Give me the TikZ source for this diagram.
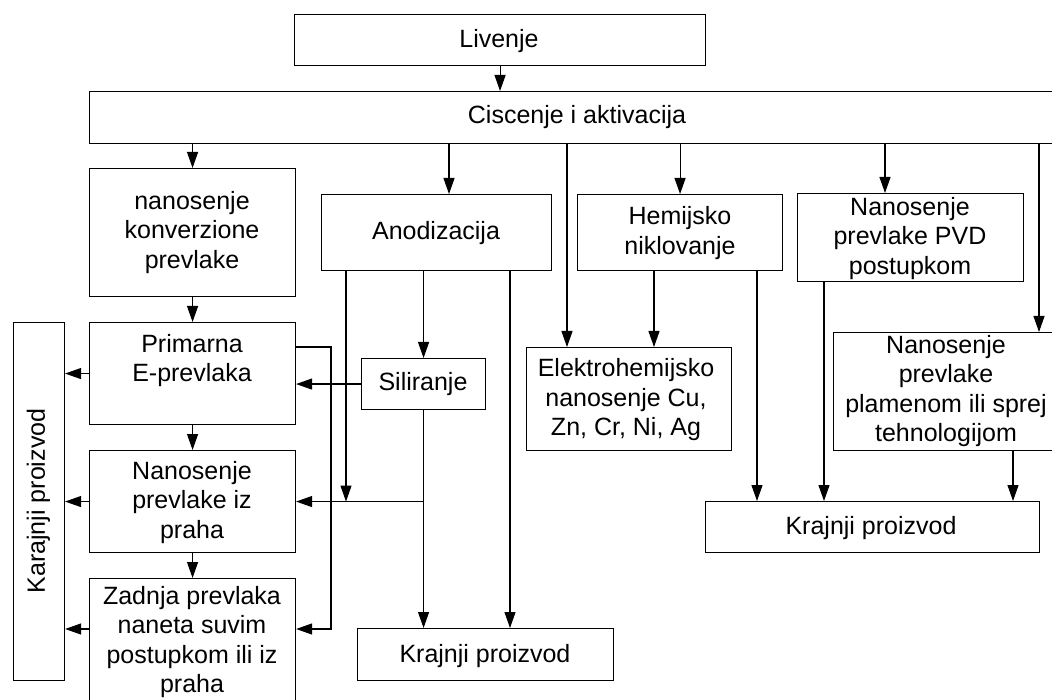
\documentclass[tikz,border=0pt]{standalone}
\usepackage{fontspec}
\setmainfont{Liberation Sans}
\usetikzlibrary{arrows.meta}
\begin{document}
\begin{tikzpicture}[x=1pt,y=-1pt,
  box/.style={draw, line width=1.1pt, inner sep=0pt, anchor=north west},
  txt/.style={inner sep=0pt, align=center, font=\fontsize{25}{29.5}\selectfont},
  arr/.style={line width=1.1pt, -{Triangle[length=16pt,width=11pt]}},
  ln/.style={line width=1.1pt}]
\useasboundingbox (0,0) rectangle (1052,700);
\clip (0,0) rectangle (1052,700);
\fill[white] (0,0) rectangle (1052,700);

% boxes
\node[box, minimum width=411pt, minimum height=51pt] (liv) at (294,14) {};
\node[box, minimum width=969pt, minimum height=52pt] (cis) at (89,91) {};
\node[box, minimum width=206pt, minimum height=128pt] (conv) at (89,168) {};
\node[box, minimum width=206pt, minimum height=102pt] (prim) at (89,322) {};
\node[box, minimum width=206pt, minimum height=102pt] (nan) at (89,450) {};
\node[box, minimum width=206pt, minimum height=134pt] (zad) at (89,578) {};
\node[box, minimum width=51pt, minimum height=358pt] (kar) at (13,322) {};
\node[box, minimum width=230pt, minimum height=76pt] (anod) at (321,194) {};
\node[box, minimum width=205pt, minimum height=76pt] (hem) at (577,194) {};
\node[box, minimum width=226pt, minimum height=88pt] (pvd) at (797,193) {};
\node[box, minimum width=124pt, minimum height=51pt] (sil) at (361,358) {};
\node[box, minimum width=205pt, minimum height=103pt] (elek) at (526,347) {};
\node[box, minimum width=226pt, minimum height=118pt] (plam) at (833,332) {};
\node[box, minimum width=256pt, minimum height=52pt] (kr1) at (357,628) {};
\node[box, minimum width=334pt, minimum height=51pt] (kr2) at (705,501) {};

% texts
\node[txt] (tliv) at (499,41.5) {Livenje};
\node[txt] (tcis) at (577,117.5) {Ciscenje i aktivacija};
\node[txt] (tconv) at (192,232.5) {nanosenje\\konverzione\\prevlake};
\node[txt] (tprim) at (192,360.5) {Primarna\\E-prevlaka};
\node[txt] (tnan) at (192,502.5) {Nanosenje\\prevlake iz\\praha};
\node[txt] (tzad) at (192,642) {Zadnja prevlaka\\naneta suvim\\postupkom ili iz\\praha};
\node[txt, rotate=90] (tkar) at (38.5,501) {Karajnji proizvod};
\node[txt] (tanod) at (436,233.5) {Anodizacija};
\node[txt] (them) at (680,233) {Hemijsko\\niklovanje};
\node[txt] (tpvd) at (910,238.5) {Nanosenje\\prevlake PVD\\postupkom};
\node[txt] (tsil) at (423,384.5) {Siliranje};
\node[txt] (telek) at (626,400) {Elektrohemijsko\\nanosenje Cu,\\Zn, Cr, Ni, Ag};
\node[txt] (tplam) at (946,391) {Nanosenje\\prevlake\\plamenom ili sprej\\tehnologijom};
\node[txt] (tkr1) at (485,656.5) {Krajnji proizvod};
\node[txt] (tkr2) at (871,528.5) {Krajnji proizvod};

% helper coordinates
\coordinate (c331) at (331,0);
\coordinate (c346) at (346,0);
\coordinate (c449) at (449,0);
\coordinate (c510) at (510,0);
\coordinate (c567) at (567,0);
\coordinate (c654) at (654,0);
\coordinate (c757) at (757,0);
\coordinate (c824) at (824,0);
\coordinate (c885) at (885,0);
\coordinate (c1013) at (1013,0);
\coordinate (c1039) at (1039,0);
\coordinate (r347) at (0,347);
\coordinate (r629) at (0,629);

% connectors
\draw[arr] (liv.south) -- (liv.south |- cis.north);
\draw[arr] (conv.north |- cis.south) -- (conv.north);
\draw[arr] (cis.south -| c449) -- (anod.north -| c449);
\draw[arr] (cis.south -| c567) -- (elek.north -| c567);
\draw[arr] (hem.north |- cis.south) -- (hem.north);
\draw[arr] (cis.south -| c885) -- (pvd.north -| c885);
\draw[arr] (cis.south -| c1039) -- (plam.north -| c1039);

\draw[arr] (conv.south) -- (prim.north);
\draw[arr] (prim.south) -- (nan.north);
\draw[arr] (nan.south) -- (zad.north);

\draw[arr] (prim.west) -- (prim.west -| kar.east);
\draw[arr] (nan.west) -- (nan.west -| kar.east);
\draw[arr] (zad.west |- r629) -- (kar.east |- r629);

\draw[arr] (prim.east |- r347) -- (c331 |- r347) -- (c331 |- r629) -- (zad.east |- r629);
\draw[arr] (sil.west) -- (sil.west -| prim.east);
\draw[arr] (sil.north |- anod.south) -- (sil.north);
\draw[arr] (anod.south -| c346) -- (c346 |- nan.east);
\draw[arr] (sil.south) -- (sil.south |- kr1.north);
\draw[arr] (sil.south |- nan.east) -- (nan.east);
\draw[arr] (anod.south -| c510) -- (kr1.north -| c510);

\draw[arr] (hem.south -| c654) -- (elek.north -| c654);
\draw[arr] (hem.south -| c757) -- (kr2.north -| c757);
\draw[arr] (pvd.south -| c824) -- (kr2.north -| c824);
\draw[arr] (plam.south -| c1013) -- (kr2.north -| c1013);
\end{tikzpicture}
\end{document}
